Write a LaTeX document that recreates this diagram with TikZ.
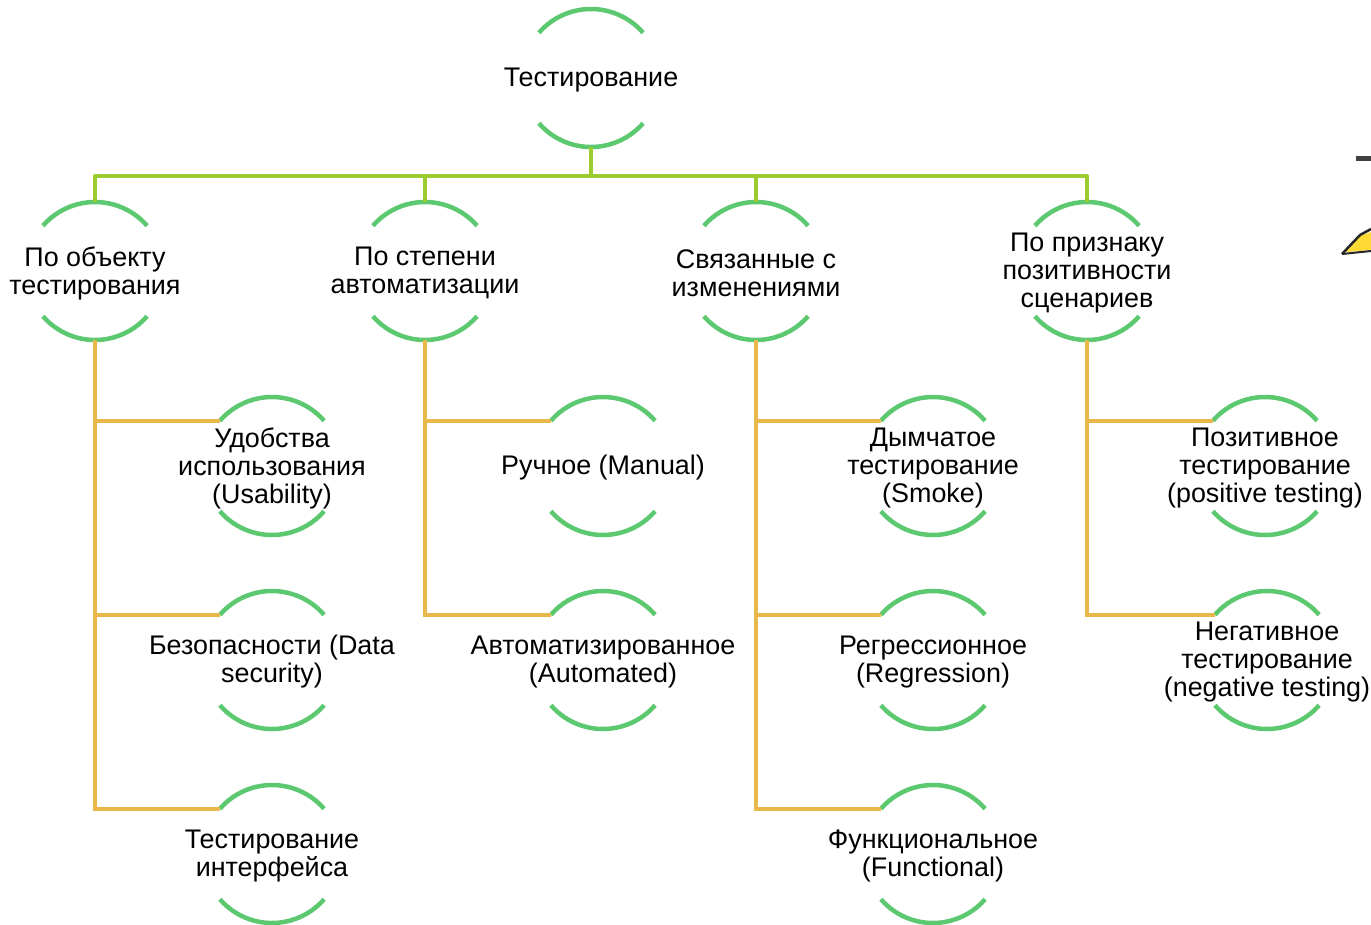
\documentclass[tikz,border=0pt]{standalone}
\usepackage{fontspec}
\setmainfont{Liberation Sans}
\usetikzlibrary{calc}
\definecolor{arcgreen}{HTML}{5CC870}
\definecolor{linegreen}{HTML}{9CCB2E}
\definecolor{lineorange}{HTML}{E8B94A}
\tikzset{
  ring/.style={circle,minimum size=138bp,inner sep=0pt,outer sep=0pt,draw=none},
  txt/.style={align=center,font=\fontsize{26.9bp}{28bp}\selectfont,text=black,inner sep=0pt,yshift=-2bp},
  arcst/.style={draw=arcgreen,line width=4.5bp},
  gline/.style={draw=linegreen,line width=4bp},
  oline/.style={draw=lineorange,line width=4bp},
}
\newcommand\ringnode[4]{%
  \node[ring] (#1) at (#2,-#3) {};
  \node[txt] (#1-t) at (#1.center) {#4};
  \draw[arcst] (#1.41) arc[start angle=41,end angle=139,radius=69bp];
  \draw[arcst] (#1.221) arc[start angle=221,end angle=319,radius=69bp];
}
\begin{document}
\begin{tikzpicture}[x=1bp,y=1bp]
\useasboundingbox (0,0) rectangle (1371,-924);
\ringnode{root}{591}{78}{Тестирование}
\ringnode{a}{95}{271}{По объекту\\тестирования}
\ringnode{b}{425}{271}{По степени\\автоматизации}
\ringnode{c}{756}{271}{Связанные с\\изменениями}
\ringnode{d}{1087}{271}{По признаку\\позитивности\\сценариев}
\ringnode{a1}{272}{466}{Удобства\\использования\\(Usability)}
\ringnode{a2}{272}{660}{Безопасности (Data\\security)}
\ringnode{a3}{272}{854}{Тестирование\\интерфейса}
\ringnode{b1}{603}{466}{Ручное (Manual)}
\ringnode{b2}{603}{660}{Автоматизированное\\(Automated)}
\ringnode{c1}{933}{466}{Дымчатое\\тестирование\\(Smoke)}
\ringnode{c2}{933}{660}{Регрессионное\\(Regression)}
\ringnode{c3}{933}{854}{Функциональное\\(Functional)}
\ringnode{d1}{1265}{466}{Позитивное\\тестирование\\(positive testing)}
\ringnode{d2}{1267}{660}{Негативное\\тестирование\\(negative testing)}
\coordinate (bus) at (591,-176);
% green tree
\draw[gline] (root.south) -- (root.south |- bus);
\draw[gline,line join=round] (a.north) -- (a.north |- bus) -- (d.north |- bus) -- (d.north);
\draw[gline] (b.north) -- (b.north |- bus);
\draw[gline] (c.north) -- (c.north |- bus);
% orange branches
\foreach \p/\k in {a/a1,a/a2,a/a3,b/b1,b/b2,c/c1,c/c2,c/c3,d/d1,d/d2}{
  \draw[oline] (\p.south) |- (\k.139);
}
% cropped fragments at right edge
\fill[black!75] (1356,-156) rectangle (1371,-161);
\fill[yellow!70!orange!80] (1346,-252) -- (1360,-236) -- (1371,-232) -- (1371,-250) -- cycle;
\draw[black!85,line width=2.5bp] (1342,-254) -- (1360,-235) -- (1371,-229);
\draw[black!85,line width=2bp] (1342,-254) -- (1371,-251);
\end{tikzpicture}
\end{document}
